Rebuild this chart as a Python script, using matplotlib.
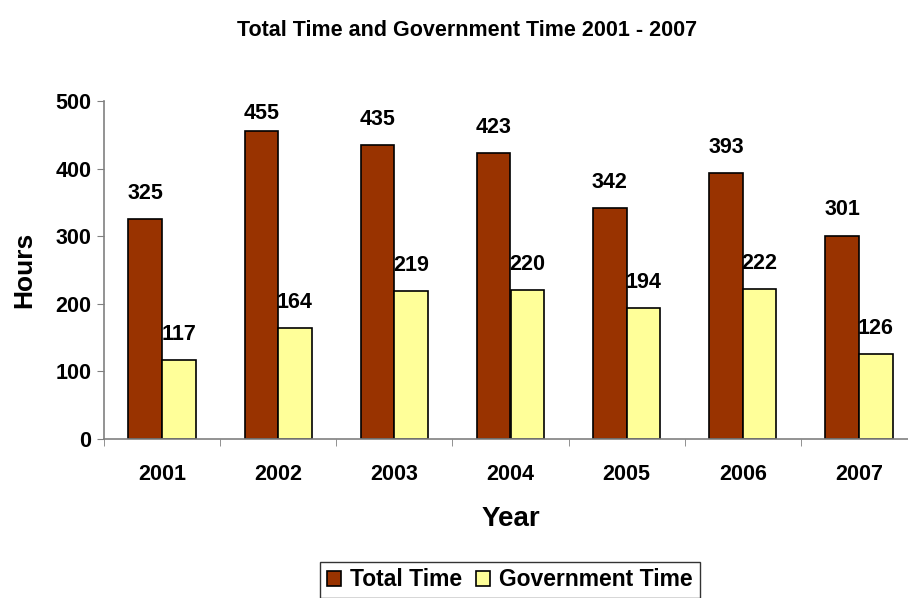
import matplotlib
matplotlib.use("Agg")
from matplotlib import pyplot as plt
import numpy as np

years = ["2001", "2002", "2003", "2004", "2005", "2006", "2007"]
total_time = [325, 455, 435, 423, 342, 393, 301]
gov_time = [117, 164, 219, 220, 194, 222, 126]

plt.rcParams['font.family'] = ['Liberation Sans', 'DejaVu Sans']
plt.rcParams['font.weight'] = 'bold'

fig = plt.figure(figsize=(9.08, 5.98), dpi=100)
ax = fig.add_axes([104 / 908, 159 / 598, 813 / 908, 338 / 598])

x = np.arange(len(years))
w = 0.29
b1 = ax.bar(x - w / 2, total_time, w, color='#993300', edgecolor='black', linewidth=1.2, label='Total Time')
b2 = ax.bar(x + w / 2, gov_time, w, color='#FFFF99', edgecolor='black', linewidth=1.2, label='Government Time')

# labels sit ~38 units above the bar, but stay inside the plot area
for bars, vals in ((b1, total_time), (b2, gov_time)):
    for r, v in zip(bars, vals):
        ax.text(r.get_x() + r.get_width() / 2, min(v + 38, 481), str(v),
                ha='center', va='center', fontsize=15.5, fontweight='bold')

ax.set_xlim(-0.5, len(years) - 0.5)
ax.set_ylim(0, 500)
ax.set_yticks(range(0, 501, 100))
ax.set_xticks(x)
ax.set_xticklabels(years)
ax.set_xticks(np.arange(-0.5, len(years) + 0.5, 1), minor=True)
ax.tick_params(axis='x', which='major', length=0, pad=18, labelsize=15.5)
ax.tick_params(axis='x', which='minor', length=5, color='#808080', direction='out')
ax.tick_params(axis='y', length=5, color='#808080', labelsize=15.5, pad=4)

for s in ('top', 'right'):
    ax.spines[s].set_visible(False)
for s in ('left', 'bottom'):
    ax.spines[s].set_color('#808080')
    ax.spines[s].set_linewidth(1.2)

ax.set_xlabel('Year', fontsize=20, fontweight='bold', labelpad=15)
ax.set_ylabel('Hours', fontsize=19, fontweight='bold', labelpad=14)
fig.text(467 / 908, 1 - 31 / 598, 'Total Time and Government Time 2001 - 2007',
         ha='center', va='center', fontsize=15.5, fontweight='bold')

leg = fig.legend(handles=[b1, b2], loc='center', bbox_to_anchor=(510 / 908, 1 - 580 / 598),
                 ncol=2, frameon=True, fancybox=False, edgecolor='black',
                 fontsize=16.5, handlelength=0.6, handleheight=0.6, handletextpad=0.4,
                 columnspacing=0.6, borderpad=0.3)
leg.get_frame().set_linewidth(1.0)

fig.savefig('out.png', dpi=100)
